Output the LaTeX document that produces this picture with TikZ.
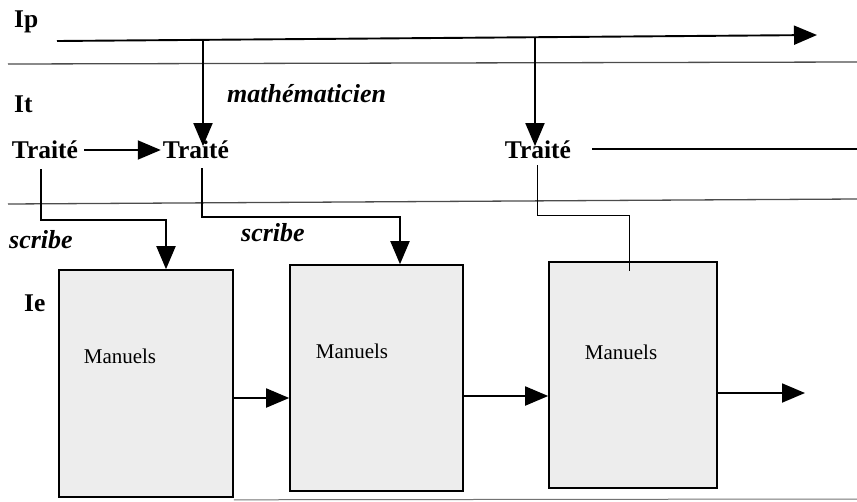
\documentclass[tikz,border=0pt]{standalone}
\usepackage{fontspec}
\setmainfont{Liberation Serif}
\usetikzlibrary{arrows.meta}
\begin{document}
\begin{tikzpicture}[x=1pt,y=-1pt,
  lbl/.style={font=\fontsize{25.5}{30}\selectfont\bfseries, inner sep=0pt, anchor=base},
  ilbl/.style={font=\fontsize{26}{30}\selectfont\bfseries\itshape, inner sep=0pt, anchor=base west},
  mlbl/.style={font=\fontsize{21}{25}\selectfont, inner sep=0pt, anchor=base},
  box/.style={draw, line width=1.6pt, fill=black!7, inner sep=0pt},
  conn/.style={line width=1.9pt, -{Triangle[length=23pt,width=19pt]}},
  thin/.style={line width=1pt},
  sep/.style={line width=1.3pt, draw=black!70},
]
\useasboundingbox (0,0) rectangle (857,501);

% level labels
\node[lbl, anchor=base west] (ip) at (14,27) {Ip};
\node[lbl, anchor=base west] (it) at (14,112) {It};
\node[lbl, anchor=base west] (ie) at (24,311) {Ie};

% separators
\coordinate (s1a) at (8,64);   \coordinate (s1b) at (857,62);
\coordinate (s2a) at (8,204);  \coordinate (s2b) at (857,199);
\draw[sep] (s1a) -- (s1b);
\draw[sep] (s2a) -- (s2b);

% Ip timeline
\coordinate (ipS) at (57,41);
\coordinate (ipE) at (817,35);
\draw[conn] (ipS) -- (ipE);
\coordinate (j1) at (203,40);
\coordinate (j2) at (535,37);

% Traité nodes
\node[lbl] (t1) at (45,158) {Traité};
\node[lbl] (t2) at (196,158) {Traité};
\node[lbl] (t3) at (538,158) {Traité};
\node[ilbl] (math) at (227,102) {mathématicien};

\draw[conn] (j1) -- ([yshift=-6pt]j1 |- t2.north);
\draw[conn] (j2) -- ([yshift=-6pt]j2 |- t3.north);
\draw[conn] ([xshift=6pt]t1.east |- 0,150) -- ([xshift=-2pt]t2.west |- 0,150);

\coordinate (t3e) at (592,149);
\coordinate (t3f) at (857,149);
\draw[line width=1.5pt] (t3e) -- (t3f);

% boxes
\node[box, minimum width=174pt, minimum height=227pt] (b1) at (146,383.5) {};
\node[box, minimum width=173pt, minimum height=226pt] (b2) at (376.5,378) {};
\node[box, minimum width=168pt, minimum height=226pt] (b3) at (633,375) {};
\node[mlbl] (m1) at (120,363) {Manuels};
\node[mlbl] (m2) at (352,358) {Manuels};
\node[mlbl] (m3) at (621,359) {Manuels};

% scribe connectors
\coordinate (k1a) at (41,169);
\coordinate (k1b) at (166,220);
\draw[conn] (k1a) |- (k1b) -- (k1b |- b1.north);
\coordinate (k2a) at (202,168);
\coordinate (k2b) at (400,217);
\draw[conn] (k2a) |- (k2b) -- (k2b |- b2.north);
\coordinate (k3a) at (537,165);
\coordinate (k3b) at (629,215);
\draw[thin] (k3a) |- (k3b) -- ([yshift=-10pt]k3b |- b3.north);

\node[ilbl] (sc1) at (9,248) {scribe};
\node[ilbl] (sc2) at (241,241) {scribe};

% box flow
\coordinate (out) at (805,393);
\draw[conn] (b1.east |- 0,398) -- (b2.west |- 0,398);
\draw[conn] (b2.east |- 0,396) -- (b3.west |- 0,396);
\draw[conn] (b3.east |- out) -- (out);

% bottom line
\coordinate (bl) at (857,499);
\draw[line width=1pt, draw=black!55] (b1.south east) ++(0,2) -- (bl);
\end{tikzpicture}
\end{document}
